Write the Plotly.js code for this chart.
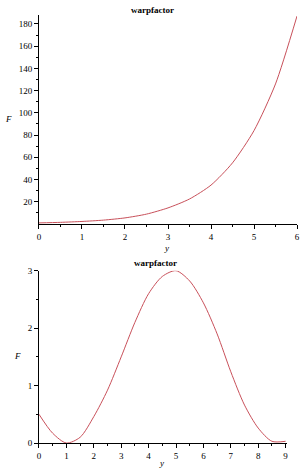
<!DOCTYPE html>
<html>
<head>
<meta charset="utf-8">
<script src="https://cdn.plot.ly/plotly-3.0.1.min.js"></script>
<style>html,body{margin:0;padding:0;background:#fff;}#c{width:308px;height:473px;}</style>
</head>
<body>
<div id="c"></div>
<script>
// Top plot: warpfactor F vs y (0..6)
const topY = [0, 0.5, 1, 1.5, 2, 2.5, 3, 3.5, 4, 4.5, 5, 5.5, 6];
const topF = [1.0, 1.5, 2.3, 3.5, 5.5, 8.9, 14.5, 22.5, 35, 55, 84, 126, 187];
// Bottom plot: warpfactor F vs y (0..9)
const botY = [0, 0.5, 1, 1.5, 2, 2.5, 3, 3.5, 4, 4.5, 5, 5.5, 6, 6.5, 7, 7.5, 8, 8.5, 9];
const botF = [0.5, 0.17, 0.0, 0.1, 0.46, 0.92, 1.5, 2.1, 2.6, 2.9, 3.0, 2.82, 2.44, 1.9, 1.24, 0.66, 0.26, 0.03, 0.03];
const topTicks = [20, 40, 60, 80, 100, 120, 140, 160, 180];
const botTicksY = [0, 1, 2, 3];
const titleText = "warpfactor";

const lineColor = "#c8505a";
const fam = "Liberation Serif, DejaVu Serif, serif";
function f(sz) { return {family: fam, size: sz, color: "#000000"}; }
function axBase() {
  return {
    showgrid: false, zeroline: false, showline: true, linecolor: "#000", linewidth: 1,
    ticks: "outside", ticklen: 4, tickwidth: 1, tickcolor: "#000",
    tickfont: f(9), fixedrange: true
  };
}

const data = [
  {x: topY, y: topF, mode: "lines", line: {color: lineColor, width: 1, shape: "spline", smoothing: 0.7}, xaxis: "x", yaxis: "y", hoverinfo: "skip"},
  {x: botY, y: botF, mode: "lines", line: {color: lineColor, width: 1, shape: "spline", smoothing: 0.8}, xaxis: "x2", yaxis: "y2", hoverinfo: "skip"}
];

const layout = {
  width: 308, height: 473,
  margin: {l: 0, r: 0, t: 0, b: 0},
  paper_bgcolor: "#fff", plot_bgcolor: "#fff",
  showlegend: false,
  font: f(9),
  xaxis: Object.assign(axBase(), {domain: [0.1266, 0.9643], range: [0, 6], tickvals: [0,1,2,3,4,5,6],
    minor: {tickvals: [0.5,1.5,2.5,3.5,4.5,5.5], ticklen: 2, tickcolor: "#000", ticks: "outside"}, anchor: "y"}),
  yaxis: Object.assign(axBase(), {domain: [0.5264, 0.9683], range: [0, 188], tickvals: topTicks,
    minor: {tickvals: [10,30,50,70,90,110,130,150,170], ticklen: 2, tickcolor: "#000", ticks: "outside"}, anchor: "x"}),
  xaxis2: Object.assign(axBase(), {domain: [0.1266, 0.9318], range: [0, 9.05], tickvals: [0,1,2,3,4,5,6,7,8,9],
    minor: {tickvals: [0.5,1.5,2.5,3.5,4.5,5.5,6.5,7.5,8.5], ticklen: 2, tickcolor: "#000", ticks: "outside"}, anchor: "y2"}),
  yaxis2: Object.assign(axBase(), {domain: [0.0634, 0.4277], range: [0, 3], tickvals: botTicksY,
    minor: {tickvals: [0.5,1.5,2.5], ticklen: 2, tickcolor: "#000", ticks: "outside"}, anchor: "x2"}),
  annotations: [
    {text: "<b>" + titleText + "</b>", xref: "paper", yref: "paper", x: 152/308, y: 1 - 10/473, showarrow: false, font: f(9), xanchor: "center", yanchor: "middle"},
    {text: "<b>" + titleText + "</b>", xref: "paper", yref: "paper", x: 155/308, y: 1 - 263/473, showarrow: false, font: f(9), xanchor: "center", yanchor: "middle"},
    {text: "<i>F</i>", xref: "paper", yref: "paper", x: 8/308, y: 1 - 119/473, showarrow: false, font: f(9), xanchor: "center", yanchor: "middle"},
    {text: "<i>F</i>", xref: "paper", yref: "paper", x: 17/308, y: 1 - 356/473, showarrow: false, font: f(9), xanchor: "center", yanchor: "middle"},
    {text: "<i>y</i>", xref: "paper", yref: "paper", x: 166/308, y: 1 - 248/473, showarrow: false, font: f(9), xanchor: "center", yanchor: "middle"},
    {text: "<i>y</i>", xref: "paper", yref: "paper", x: 161/308, y: 1 - 463/473, showarrow: false, font: f(9), xanchor: "center", yanchor: "middle"}
  ]
};

Plotly.newPlot("c", data, layout, {staticPlot: true, displayModeBar: false});
</script>
</body>
</html>
